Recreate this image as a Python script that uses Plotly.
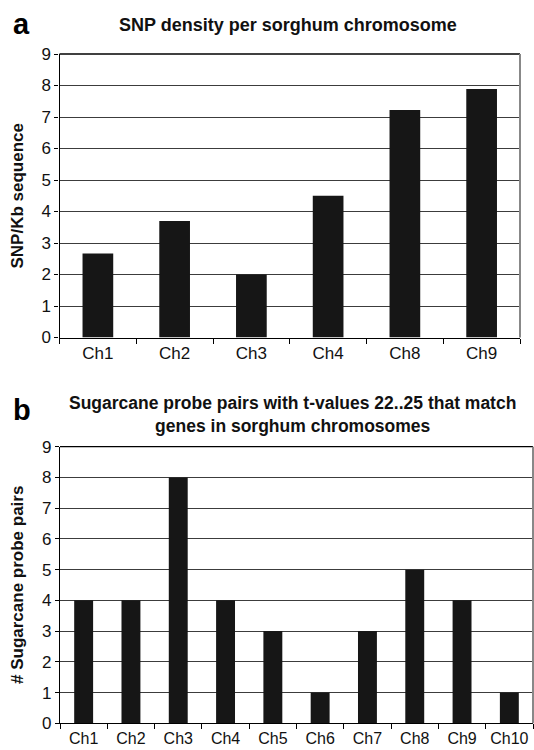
import plotly.graph_objects as go

# Panel a data
snp_chrom = ["Ch1", "Ch2", "Ch3", "Ch4", "Ch8", "Ch9"]
snp_density = [2.67, 3.7, 2.0, 4.5, 7.22, 7.89]

# Panel b data
probe_chrom = ["Ch1", "Ch2", "Ch3", "Ch4", "Ch5", "Ch6", "Ch7", "Ch8", "Ch9", "Ch10"]
probe_pairs = [4, 4, 8, 4, 3, 1, 3, 5, 4, 1]

y_ticks = list(range(0, 10))

W, H = 534, 750
FONT = "Liberation Sans, Arial, sans-serif"
BAR = "#161616"
GRID = "#3c3c3c"

fig = go.Figure()
fig.add_trace(go.Bar(x=snp_chrom, y=snp_density, marker=dict(color=BAR, line=dict(width=0)),
                     xaxis="x", yaxis="y", width=0.4, showlegend=False))
fig.add_trace(go.Bar(x=probe_chrom, y=probe_pairs, marker=dict(color=BAR, line=dict(width=0)),
                     xaxis="x2", yaxis="y2", width=0.4, showlegend=False))

def px_x(p):
    return p / W

def px_y(p):
    return 1 - p / H

def xaxis_style(size):
    return dict(type="category", showline=True, linecolor="black", linewidth=1.2,
                ticks="outside", tickson="boundaries", ticklen=5, tickcolor="black",
                showgrid=False, tickangle=0, automargin=False,
                tickfont=dict(family=FONT, size=size, color="#111"))

def yaxis_style(size):
    return dict(range=[0, 9], tickvals=y_ticks, showline=True, linecolor="black", linewidth=1.2,
                ticks="outside", ticklen=4, tickcolor="black", showgrid=True, gridcolor=GRID,
                gridwidth=1.3, zeroline=False, automargin=False,
                tickfont=dict(family=FONT, size=size, color="#111"))

fig.update_layout(
    width=W, height=H, margin=dict(l=0, r=0, t=0, b=0, autoexpand=False),
    paper_bgcolor="white", plot_bgcolor="white",
    xaxis=dict(domain=[px_x(59.5), px_x(520)], anchor="y", **xaxis_style(17)),
    yaxis=dict(domain=[px_y(337.5), px_y(54)], anchor="x", **yaxis_style(17)),
    xaxis2=dict(domain=[px_x(60), px_x(533)], anchor="y2", **xaxis_style(16)),
    yaxis2=dict(domain=[px_y(723.3), px_y(446.7)], anchor="x2", **yaxis_style(17)),
    bargap=0.6,
)

# frame: top and right borders
for xa, ya in (("x", "y"), ("x2", "y2")):
    fig.add_shape(type="line", xref=f"{xa} domain", yref=f"{ya} domain", x0=0, x1=1, y0=1, y1=1,
                  line=dict(color="black", width=1.3))
    fig.add_shape(type="line", xref=f"{xa} domain", yref=f"{ya} domain", x0=1, x1=1, y0=0, y1=1,
                  line=dict(color="#888", width=2))

ann = []
ann.append(dict(text="<b>a</b>", x=px_x(11), y=px_y(42), xanchor="left", yanchor="bottom",
                font=dict(family=FONT, size=29, color="black")))
ann.append(dict(text="<b>b</b>", x=px_x(11), y=px_y(428), xanchor="left", yanchor="bottom",
                font=dict(family=FONT, size=29, color="black")))
ann.append(dict(text="<b>SNP density per sorghum chromosome</b>", x=px_x(288), y=px_y(37),
                xanchor="center", yanchor="bottom", font=dict(family=FONT, size=18, color="#111")))
ann.append(dict(text="<b>Sugarcane probe pairs with t-values 22..25 that match<br>genes in sorghum chromosomes</b>",
                x=px_x(292), y=px_y(438), xanchor="center", yanchor="bottom",
                font=dict(family=FONT, size=17.5, color="#111")))
ann.append(dict(text="<b>SNP/Kb sequence</b>", x=px_x(17), y=px_y(195.5), textangle=-90,
                xanchor="center", yanchor="middle", font=dict(family=FONT, size=17, color="#111")))
ann.append(dict(text="<b># Sugarcane probe pairs</b>", x=px_x(17), y=px_y(585), textangle=-90,
                xanchor="center", yanchor="middle", font=dict(family=FONT, size=17, color="#111")))
for a in ann:
    a.update(xref="paper", yref="paper", showarrow=False)
fig.update_layout(annotations=ann)

fig.write_html("out.html", config={"displayModeBar": False},
               post_script="document.body.style.margin='0';")
